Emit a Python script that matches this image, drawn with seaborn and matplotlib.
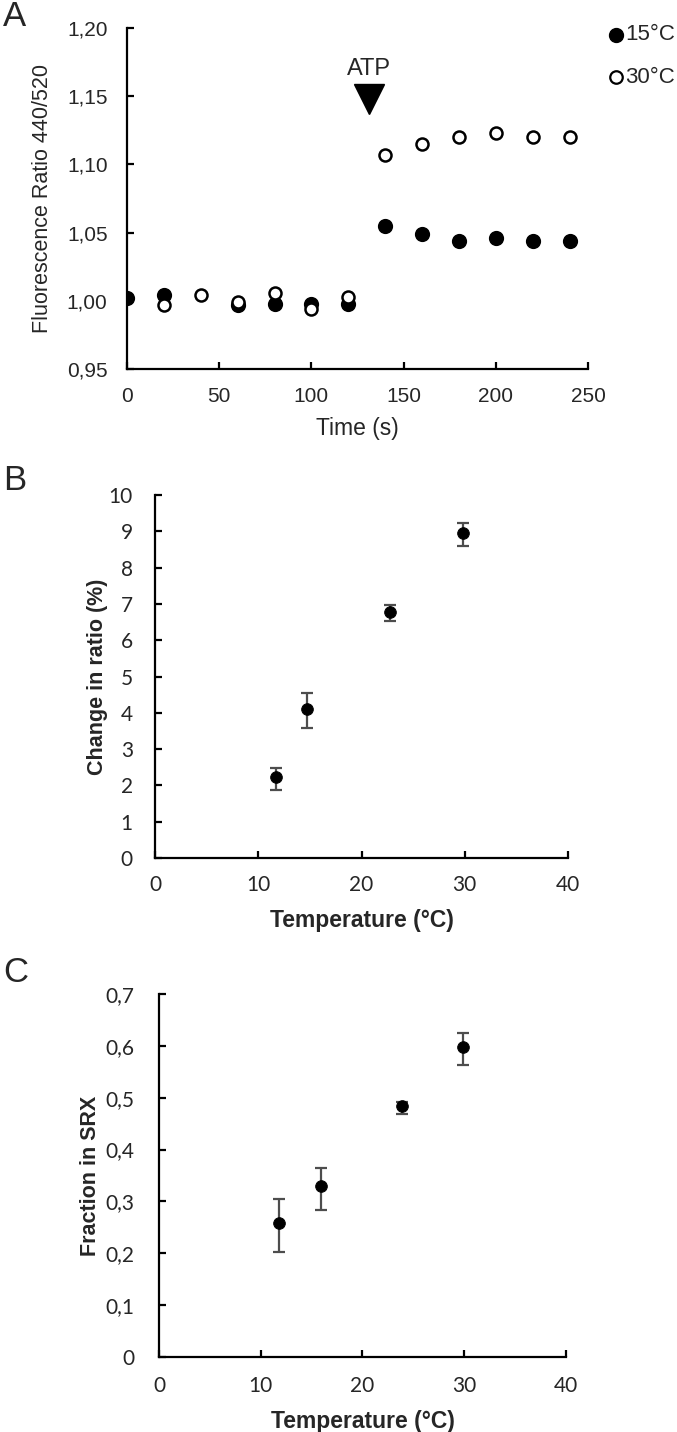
import numpy as np
import pandas as pd
import matplotlib
matplotlib.use('Agg')
import matplotlib.pyplot as plt
import seaborn as sns

sns.set_style('white')
plt.rcParams['font.family'] = ['Liberation Sans', 'DejaVu Sans']

# --- Panel A: fluorescence ratio over time ---
time_15 = [0, 20, 60, 80, 100, 120, 140, 160, 180, 200, 220, 240]
ratio_15 = [1.002, 1.004, 0.997, 0.998, 0.998, 0.998, 1.055, 1.049, 1.044, 1.046, 1.044, 1.044]
time_30 = [20, 40, 60, 80, 100, 120, 140, 160, 180, 200, 220, 240]
ratio_30 = [0.997, 1.004, 0.999, 1.006, 0.994, 1.003, 1.107, 1.115, 1.120, 1.123, 1.120, 1.120]
atp_time = 131

# --- Panel B: change in ratio vs temperature ---
temp_b = [11.7, 14.7, 22.8, 29.8]
change_b = [2.24, 4.11, 6.77, 8.96]
change_lo = [1.87, 3.58, 6.54, 8.60]
change_hi = [2.49, 4.55, 6.97, 9.22]

# --- Panel C: fraction in SRX vs temperature ---
temp_c = [11.8, 15.9, 23.9, 29.9]
srx_c = [0.258, 0.330, 0.483, 0.597]
srx_lo = [0.203, 0.284, 0.469, 0.563]
srx_hi = [0.305, 0.364, 0.492, 0.624]

fig = plt.figure(figsize=(6.77, 14.32), dpi=100)

def style_axes(ax, ypad=8, xpad=8):
    sns.despine(ax=ax)
    for s in ['left', 'bottom']:
        ax.spines[s].set_linewidth(1.6)
        ax.spines[s].set_color('black')
    ax.tick_params(direction='in', length=5, width=1.6, color='black',
                   bottom=True, left=True)
    ax.tick_params(axis='y', pad=ypad)
    ax.tick_params(axis='x', pad=xpad)
    ax.grid(False)

# Panel A
axA = fig.add_axes([0.1876, 0.7423, 0.6809, 0.2381])
dfa15 = pd.DataFrame({'t': time_15, 'r': ratio_15})
dfa30 = pd.DataFrame({'t': time_30, 'r': ratio_30})
sns.scatterplot(data=dfa15, x='t', y='r', ax=axA, color='black', s=95,
                edgecolor='black', linewidth=1.2, zorder=3)
sns.scatterplot(data=dfa30, x='t', y='r', ax=axA, color='white', s=75,
                edgecolor='black', linewidth=1.8, zorder=4)
axA.set_xlim(0, 250)
axA.set_ylim(0.95, 1.20)
axA.set_xticks([0, 50, 100, 150, 200, 250])
axA.set_yticks([0.95, 1.00, 1.05, 1.10, 1.15, 1.20])
axA.set_yticklabels(['0,95', '1,00', '1,05', '1,10', '1,15', '1,20'])
axA.set_xlabel('Time (s)', fontsize=16.5, labelpad=8)
axA.set_ylabel('Fluorescence Ratio 440/520', fontsize=15.5, labelpad=10)
style_axes(axA, ypad=14, xpad=13)
axA.tick_params(labelsize=15)
axA.plot([atp_time], [1.148], marker='v', markersize=22, color='black', clip_on=False)
axA.text(atp_time, 1.170, 'ATP', ha='center', va='center', fontsize=17)
# legend outside the axes (top right)
axA.plot([265], [1.195], marker='o', markersize=10, color='black', clip_on=False)
axA.plot([265], [1.164], marker='o', markersize=9, markerfacecolor='white',
         markeredgecolor='black', markeredgewidth=1.6, clip_on=False)
axA.text(270, 1.195, '15°C', ha='left', va='center', fontsize=16)
axA.text(270, 1.164, '30°C', ha='left', va='center', fontsize=16)

# Panel B
axB = fig.add_axes([0.229, 0.4008, 0.610, 0.2535])
dfb = pd.DataFrame({'T': temp_b, 'c': change_b})
yerr_b = [np.array(change_b) - np.array(change_lo), np.array(change_hi) - np.array(change_b)]
axB.errorbar(temp_b, change_b, yerr=yerr_b, fmt='none', ecolor='#4d4d4d',
             elinewidth=1.6, capsize=4.5, capthick=1.6, zorder=2)
sns.scatterplot(data=dfb, x='T', y='c', ax=axB, color='black', s=70,
                edgecolor='black', zorder=3)
axB.set_xlim(0, 40)
axB.set_ylim(0, 10)
axB.set_xticks([0, 10, 20, 30, 40])
axB.set_yticks(range(0, 11))
axB.set_xlabel('Temperature (°C)', fontsize=16.5, fontweight='bold', labelpad=10)
axB.set_ylabel('Change in ratio (%)', fontsize=15.5, fontweight='bold')
style_axes(axB, ypad=16, xpad=12)
for lab in axB.get_xticklabels() + axB.get_yticklabels():
    lab.set_family(['Lato', 'DejaVu Sans'])
    lab.set_fontsize(15)
axB.yaxis.set_label_coords(-0.115, 0.5)

# Panel C
axC = fig.add_axes([0.2349, 0.0524, 0.6011, 0.2535])
dfc = pd.DataFrame({'T': temp_c, 'f': srx_c})
yerr_c = [np.array(srx_c) - np.array(srx_lo), np.array(srx_hi) - np.array(srx_c)]
axC.errorbar(temp_c, srx_c, yerr=yerr_c, fmt='none', ecolor='#4d4d4d',
             elinewidth=1.6, capsize=4.5, capthick=1.6, zorder=2)
sns.scatterplot(data=dfc, x='T', y='f', ax=axC, color='black', s=70,
                edgecolor='black', zorder=3)
axC.set_xlim(0, 40)
axC.set_ylim(0, 0.7)
axC.set_xticks([0, 10, 20, 30, 40])
axC.set_yticks([0, 0.1, 0.2, 0.3, 0.4, 0.5, 0.6, 0.7])
axC.set_yticklabels(['0', '0,1', '0,2', '0,3', '0,4', '0,5', '0,6', '0,7'])
axC.set_xlabel('Temperature (°C)', fontsize=16.5, fontweight='bold', labelpad=10)
axC.set_ylabel('Fraction in SRX', fontsize=15.5, fontweight='bold')
style_axes(axC, ypad=18, xpad=14)
for lab in axC.get_xticklabels() + axC.get_yticklabels():
    lab.set_family(['Lato', 'DejaVu Sans'])
    lab.set_fontsize(15)
axC.yaxis.set_label_coords(-0.142, 0.5)

# panel letters
for letter, y in [('A', 0.9888), ('B', 0.6648), ('C', 0.3212)]:
    fig.text(0.005, y, letter, fontsize=25, ha='left', va='center',
             family=['Liberation Sans Narrow', 'Liberation Sans'])

fig.savefig('out.png', dpi=100)
